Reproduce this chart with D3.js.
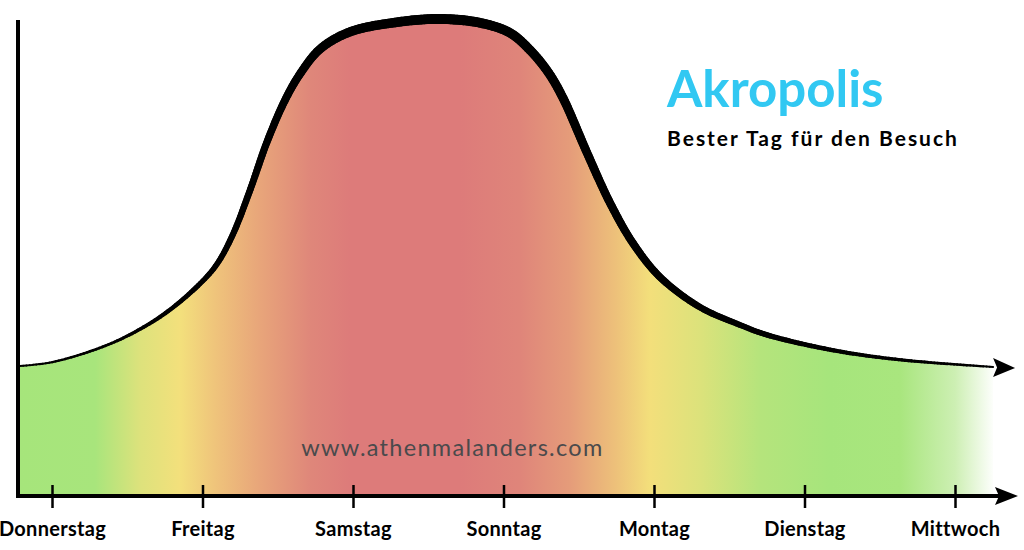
<!DOCTYPE html>
<html>
<head>
<meta charset="utf-8">
<script src="https://cdn.jsdelivr.net/npm/d3@7"></script>
<style>
  html, body { margin: 0; padding: 0; background: #ffffff; }
  svg { display: block; }
</style>
</head>
<body>
<svg id="chart" width="1024" height="550"></svg>
<script>
// ---- data ----
const days = ["Donnerstag", "Freitag", "Samstag", "Sonntag", "Montag", "Dienstag", "Mittwoch"];
// position along the week (0 = Donnerstag ... 6 = Mittwoch)
const curveT = [-0.213, 0, 0.319, 0.538, 0.764, 0.983, 1.096, 1.203, 1.316, 1.429, 1.548, 1.648, 1.781, 1.98, 2.312, 2.578, 2.844, 3.043, 3.176, 3.296, 3.395, 3.555, 3.708, 3.86, 4.04, 4.306, 4.571, 4.751, 5.189, 5.635, 6.253];
// crowd level (%)
const curveV = [27.2, 28.0, 31.0, 34.1, 38.5, 44.4, 48.5, 54.8, 64.0, 74.1, 82.8, 88.3, 93.5, 97.1, 99.2, 99.8, 99.0, 96.9, 93.3, 88.7, 83.3, 71.8, 61.3, 52.9, 45.8, 39.5, 35.8, 33.7, 30.5, 28.5, 27.0];
const titleText = "Akropolis";
const subtitleText = "Bester Tag für den Besuch";
const watermark = "www.athenmalanders.com";

const data = curveT.map((t, i) => ({ t, v: curveV[i] }));

const svg = d3.select("#chart");
const x = d3.scaleLinear().domain([0, 6]).range([52, 955]);
const y = d3.scaleLinear().domain([0, 100]).range([496, 18]);

// gradient
const defs = svg.append("defs");
const grad = defs.append("linearGradient")
  .attr("id", "heat").attr("gradientUnits", "userSpaceOnUse")
  .attr("x1", 20).attr("x2", 1000).attr("y1", 0).attr("y2", 0);
const stops = [
  [20, "#a6e57b"], [95, "#a8e57c"], [140, "#dde27c"], [180, "#f3e07c"],
  [215, "#efc47b"], [260, "#e8a57a"], [310, "#df877a"], [350, "#dd7b7a"],
  [460, "#dd7b7a"], [520, "#df857a"], [570, "#e59c7a"], [615, "#edc07a"],
  [650, "#f3df7b"], [700, "#dce27b"], [760, "#b5e47c"], [830, "#a6e57c"],
  [900, "#a9e67e"], [955, "#cdefb3"], [995, "#ffffff"]
];
stops.forEach(([px, c]) => grad.append("stop")
  .attr("offset", ((px - 20) / 980 * 100) + "%").attr("stop-color", c));

const curve = d3.curveCatmullRom.alpha(0.5);

// area
svg.append("path").datum(data)
  .attr("fill", "url(#heat)")
  .attr("d", d3.area().curve(curve).x(d => x(d.t)).y0(y(0)).y1(d => y(d.v)));

// watermark
svg.append("text").attr("x", x(2.66)).attr("y", 456)
  .attr("text-anchor", "middle")
  .attr("font-family", "Lato").attr("font-weight", 400).attr("font-size", 23.5)
  .attr("letter-spacing", 1.3)
  .attr("fill", "#4a4a4c").text(watermark);

// curve with varying thickness
const line = d3.line().curve(curve).x(d => x(d.t)).y(d => y(d.v));
const hidden = svg.append("path").datum(data).attr("d", line).attr("fill", "none").attr("stroke", "none");
const node = hidden.node();
const L = node.getTotalLength();
const N = 400;
const pts = d3.range(N + 1).map(i => node.getPointAtLength(L * i / N));
const wScale = d3.scaleLinear()
  .domain([20, 120, 200, 260, 330, 450, 560, 650, 760, 880, 995])
  .range([1.8, 3, 5, 7, 9, 10, 9, 7.5, 5.5, 3.5, 2]);
const strokeG = svg.append("g");
for (let i = 0; i < N; i++) {
  const a = pts[i], b = pts[i + 1];
  strokeG.append("line")
    .attr("x1", a.x).attr("y1", a.y).attr("x2", b.x).attr("y2", b.y)
    .attr("stroke", "#000").attr("stroke-linecap", "round")
    .attr("stroke-width", wScale((a.x + b.x) / 2));
}
// arrow at curve end
const last = data[data.length - 1];
const ex = x(last.t), ey = y(last.v);
svg.append("path")
  .attr("d", `M${ex},${ey - 9} L${ex + 22},${ey + 1} L${ex},${ey + 10} L${ex + 4},${ey + 0.5} Z`)
  .attr("fill", "#000");

// axes
const axisY = y(0);
svg.append("line").attr("x1", 18).attr("x2", 18).attr("y1", 20).attr("y2", axisY + 2)
  .attr("stroke", "#000").attr("stroke-width", 4);
svg.append("line").attr("x1", 16).attr("x2", 1000).attr("y1", axisY).attr("y2", axisY)
  .attr("stroke", "#000").attr("stroke-width", 4);
svg.append("path")
  .attr("d", `M995,${axisY - 9} L1018,${axisY} L995,${axisY + 9} L999,${axisY} Z`)
  .attr("fill", "#000");

const xAxis = svg.append("g").attr("transform", `translate(0,${axisY})`)
  .call(d3.axisBottom(x).tickValues(d3.range(days.length)).tickFormat(i => days[i]).tickSize(12).tickPadding(14));
xAxis.select(".domain").remove();
xAxis.selectAll(".tick line").attr("y1", -11).attr("y2", 12).attr("stroke", "#000").attr("stroke-width", 2.5);
xAxis.selectAll(".tick text")
  .attr("font-family", "Lato").attr("font-weight", 700).attr("font-size", 20)
  .attr("fill", "#000").attr("letter-spacing", 0.3);

// titles
svg.append("text").attr("x", 667).attr("y", 107)
  .attr("font-family", "Lato").attr("font-weight", 700).attr("font-size", 51)
  .attr("fill", "#31c8f2").text(titleText);
svg.append("text").attr("x", 667).attr("y", 146)
  .attr("font-family", "Lato").attr("font-weight", 700).attr("font-size", 21)
  .attr("letter-spacing", 2)
  .attr("fill", "#000").text(subtitleText);
</script>
</body>
</html>
